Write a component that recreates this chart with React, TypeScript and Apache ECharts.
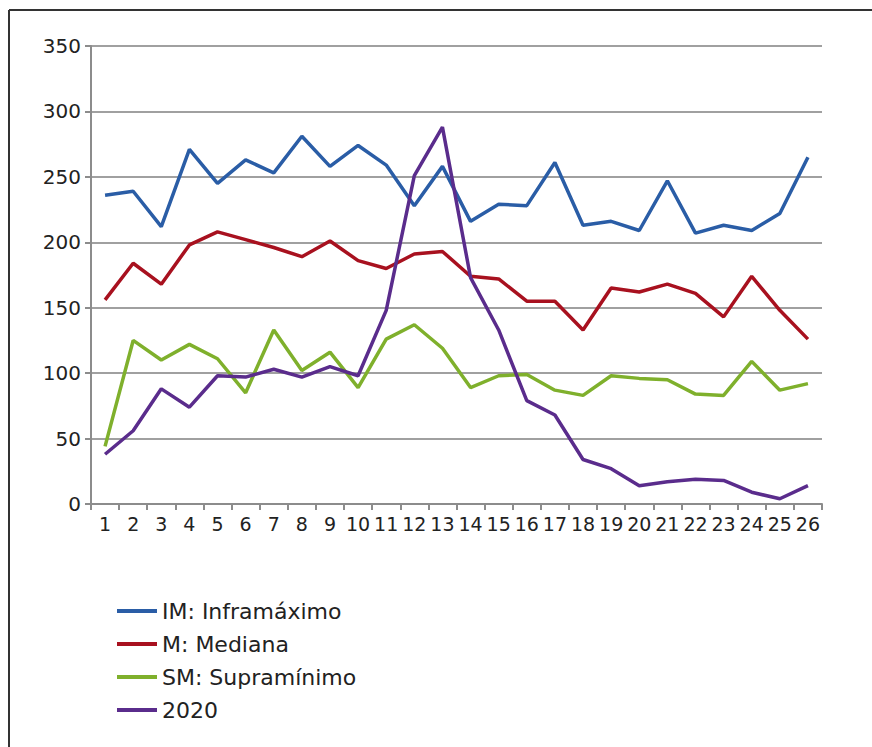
import React, { useEffect, useRef } from "react";
import * as echarts from "echarts";

const categories = ["1","2","3","4","5","6","7","8","9","10","11","12","13","14","15","16","17","18","19","20","21","22","23","24","25","26"];
const imValues = [236, 239, 212, 271, 245, 263, 253, 281, 258, 274, 259, 228, 258, 216, 229, 228, 261, 213, 216, 209, 247, 207, 213, 209, 222, 265];
const mValues = [156, 184, 168, 198, 208, 202, 196, 189, 201, 186, 180, 191, 193, 174, 172, 155, 155, 133, 165, 162, 168, 161, 143, 174, 148, 126];
const smValues = [44, 125, 110, 122, 111, 85, 133, 102, 116, 89, 126, 137, 119, 89, 98, 99, 87, 83, 98, 96, 95, 84, 83, 109, 87, 92];
const y2020Values = [38, 56, 88, 74, 98, 97, 103, 97, 105, 98, 148, 251, 288, 173, 133, 79, 68, 34, 27, 14, 17, 19, 18, 9, 4, 14];
const seriesNames = ["IM: Inframáximo", "M: Mediana", "SM: Supramínimo", "2020"];
const seriesColors = ["#2a5da6", "#a8111f", "#7fb02c", "#5a2c8c"];
const yTicks = [0, 50, 100, 150, 200, 250, 300, 350];

export default function App() {
  const ref = useRef<HTMLDivElement>(null);
  useEffect(() => {
    if (!ref.current) return;
    const chart = echarts.init(ref.current, null, { renderer: "svg" });
    const font = "DejaVu Sans";
    const data = [imValues, mValues, smValues, y2020Values];
    chart.setOption({
      animation: false,
      backgroundColor: "#ffffff",
      grid: { left: 91, right: 50, top: 46, bottom: 243 },
      xAxis: {
        type: "category",
        data: categories,
        boundaryGap: true,
        axisLine: { lineStyle: { color: "#8c8c8c", width: 2 } },
        axisTick: { show: true, length: 6, lineStyle: { color: "#8c8c8c", width: 2 } },
        axisLabel: { interval: 0, color: "#222", fontFamily: font, fontSize: 19, margin: 10 },
      },
      yAxis: {
        type: "value",
        min: yTicks[0],
        max: yTicks[yTicks.length - 1],
        interval: 50,
        axisLine: { show: true, lineStyle: { color: "#8c8c8c", width: 2 } },
        axisTick: { show: true, length: 6, lineStyle: { color: "#8c8c8c", width: 2 } },
        axisLabel: { color: "#222", fontFamily: font, fontSize: 20, margin: 10 },
        splitLine: { show: true, lineStyle: { color: "#a0a0a0", width: 2 } },
      },
      legend: {
        orient: "vertical",
        left: 112,
        top: 595,
        itemWidth: 40,
        itemHeight: 4,
        itemGap: 11,
        icon: "rect",
        textStyle: { fontFamily: font, fontSize: 22, color: "#222", padding: [0, 0, 0, 0] },
        data: seriesNames,
      },
      graphic: [
        { type: "line", shape: { x1: 9, y1: 10, x2: 872, y2: 10 }, style: { stroke: "#333", lineWidth: 2 } },
        { type: "line", shape: { x1: 9, y1: 10, x2: 9, y2: 747 }, style: { stroke: "#333", lineWidth: 2 } },
      ],
      series: data.map((d, i) => ({
        name: seriesNames[i],
        type: "line",
        data: d,
        symbol: "none",
        lineStyle: { color: seriesColors[i], width: 3.5 },
        itemStyle: { color: seriesColors[i] },
      })),
    });
    return () => chart.dispose();
  }, []);
  return <div ref={ref} style={{ position: "fixed", left: 0, top: 0, width: 872, height: 747 }} />;
}
